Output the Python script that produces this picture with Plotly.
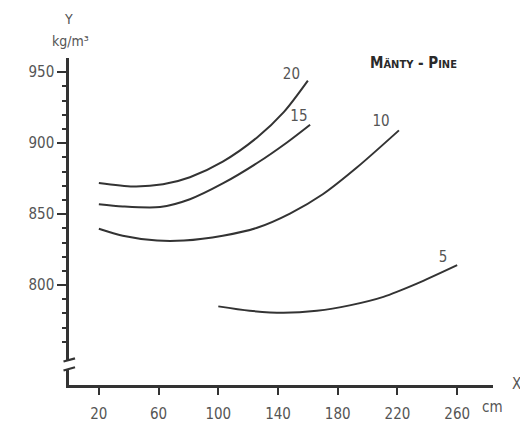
import plotly.graph_objects as go

# ---- data ----
x20 = [20, 43, 63, 81, 103, 126, 144, 160]
y20 = [872, 869.5, 871, 876, 887, 904, 922, 944]
x15 = [20, 36, 61, 81, 103, 126, 146, 161.5]
y15 = [857, 855.4, 855, 860.5, 871.6, 886, 900.5, 913]
x10 = [20, 36, 59, 77, 103, 126, 148, 170, 193, 221]
y10 = [839.7, 834.8, 831.4, 831.4, 834.8, 840.4, 850.4, 864, 883, 909]
x5 = [100, 121, 143.6, 166, 188, 210.6, 233, 260]
y5 = [785, 781.9, 780.5, 781.9, 785.7, 791.7, 801, 814]

curve_names = ["20", "15", "10", "5"]
label_x = [149, 154, 209, 250.5]
label_y = [948, 918, 914.5, 819]

x_ticks = [20, 60, 100, 140, 180, 220, 260]
y_ticks = [800, 850, 900, 950]
y_minor = list(range(760, 960, 10))

# ---- layout geometry (pixels) ----
L, R, T, B = 69, 493, 58, 402
W, H = R - L, B - T


def pxx(p):
    return (p - L) / W


def pxy(p):
    return (B - p) / H


LINE = "#333333"
TXT = "#555555"
FONT = "Liberation Sans Narrow, DejaVu Sans Condensed, sans-serif"

fig = go.Figure()
for xs, ys in [(x20, y20), (x15, y15), (x10, y10), (x5, y5)]:
    fig.add_trace(go.Scatter(x=xs, y=ys, mode="lines",
                             line=dict(color=LINE, width=2, shape="spline", smoothing=0.8),
                             hoverinfo="skip", showlegend=False))

fig.add_trace(go.Scatter(x=label_x, y=label_y, mode="text", text=curve_names,
                         textfont=dict(family=FONT, size=15, color=TXT),
                         hoverinfo="skip", showlegend=False))

fig.update_layout(
    width=520, height=435,
    margin=dict(l=L, r=520 - R, t=T, b=435 - B),
    paper_bgcolor="white", plot_bgcolor="white",
    showlegend=False,
    xaxis=dict(range=[0, 284], tickvals=x_ticks, ticks="outside", ticklen=7,
               tickwidth=2, tickcolor=LINE, showline=True, linecolor=LINE,
               linewidth=2.5, showgrid=False, zeroline=False,
               tickfont=dict(family=FONT, size=15, color=TXT),
               ticklabelstandoff=6),
    yaxis=dict(range=[729.6, 960], tickvals=y_ticks, ticks="outside", ticklen=9,
               tickwidth=2, tickcolor=LINE, showline=True, linecolor=LINE,
               linewidth=2.5, showgrid=False, zeroline=False,
               tickfont=dict(family=FONT, size=15, color=TXT),
               minor=dict(tickmode="array", tickvals=y_minor, ticks="outside",
                          ticklen=4, tickwidth=2, tickcolor=LINE, showgrid=False)),
)

# axis break on the Y axis
fig.add_shape(type="rect", xref="paper", yref="paper",
              x0=pxx(65.5), x1=pxx(72.5), y0=pxy(385.5), y1=pxy(376),
              fillcolor="white", line=dict(width=0), layer="above")
for ya, yb in [(377.3, 374.0), (386.7, 383.3)]:
    fig.add_shape(type="line", xref="paper", yref="paper",
                  x0=pxx(63.5), x1=pxx(75), y0=pxy(ya), y1=pxy(yb),
                  line=dict(color=LINE, width=2.2), layer="above")

# axis titles / annotations
ann = [
    dict(x=pxx(68), y=pxy(17), text="Y", size=14),
    dict(x=pxx(70), y=pxy(40), text="kg/m³", size=14),
    dict(x=pxx(516), y=pxy(401), text="X", size=15),
    dict(x=pxx(492), y=pxy(425), text="cm", size=15),
]
for a in ann:
    fig.add_annotation(x=a["x"], y=a["y"], xref="paper", yref="paper",
                       text=a["text"], showarrow=False, xanchor="center",
                       yanchor="middle",
                       font=dict(family=FONT, size=a["size"], color=TXT))

fig.add_annotation(x=pxx(413), y=pxy(63), xref="paper", yref="paper",
                   text="<b>M<span style='font-size:11px'>ÄNTY</span> - "
                        "P<span style='font-size:11px'>INE</span></b>",
                   showarrow=False, xanchor="center", yanchor="middle",
                   font=dict(family="DejaVu Sans Condensed, sans-serif", size=15,
                             color="#2a2a2a"))

fig.write_html("out.html")
